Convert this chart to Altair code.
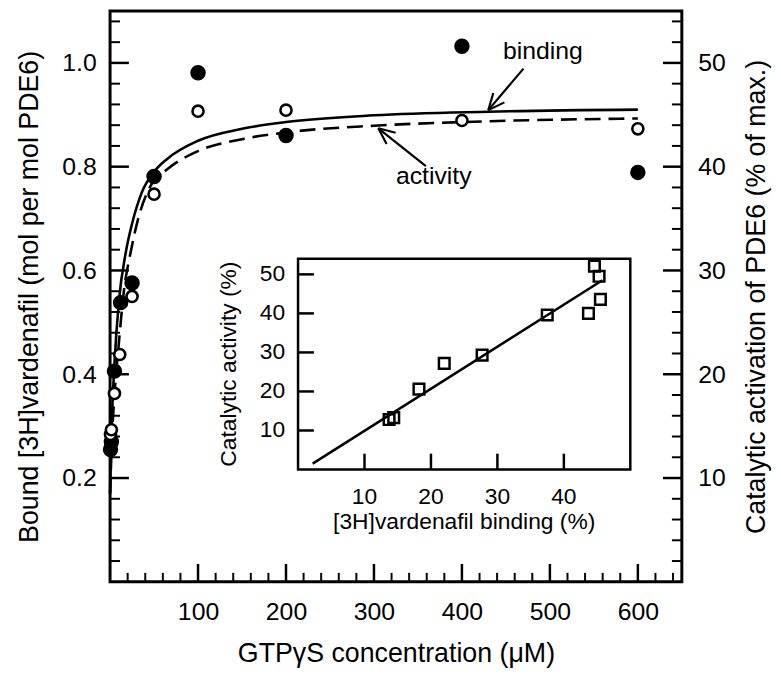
import math
import altair as alt
import pandas as pd

FONT = "Liberation Sans"
W, H = 577, 576
XMAX, YMAX, RMAX = 650, 1.1, 55

# ---------------- main data ----------------
bind_x = [0.5, 1.5, 5, 12, 25, 50, 100, 200, 400, 600]
bind_y = [0.255, 0.270, 0.406, 0.538, 0.576, 0.781, 0.981, 0.860, 1.032, 0.789]
act_x = [0.5, 1.5, 5, 11, 25, 50, 100, 200, 400, 600]
act_y = [0.284, 0.293, 0.363, 0.438, 0.550, 0.747, 0.907, 0.909, 0.889, 0.873]

bind_fit_x = [0, 1, 2, 5, 10, 18, 25, 36, 50, 65, 100, 150, 200, 300, 430, 600]
bind_fit_y = [0.17, 0.25, 0.31, 0.42, 0.54, 0.636, 0.69, 0.75, 0.79, 0.815, 0.850, 0.873, 0.886, 0.899, 0.906, 0.910]
act_fit_x = [0, 1, 2, 5, 10, 15, 24, 32, 47, 65, 100, 150, 200, 300, 400, 600]
act_fit_y = [0.17, 0.22, 0.27, 0.36, 0.46, 0.55, 0.64, 0.70, 0.766, 0.795, 0.830, 0.853, 0.866, 0.879, 0.886, 0.893]

x_major = [100, 200, 300, 400, 500, 600]
x_minor = [v for v in range(20, 650, 20) if v % 100 != 0]
y_major = [0.2, 0.4, 0.6, 0.8, 1.0]
y_minor = [round(i * 0.04, 2) for i in range(1, 28) if i % 5 != 0]
r_major = [10, 20, 30, 40, 50]
r_minor = [v for v in range(2, 55, 2) if v % 10 != 0]

ann_text = ["binding", "activity"]
ann_x = [492, 368]
ann_y = [1.022, 0.781]
arrow_tail_x = [470, 359]
arrow_tail_y = [0.989, 0.801]
arrow_head_x = [430, 305]
arrow_head_y = [0.909, 0.874]

# ---------------- inset data ----------------
sq_x = [44.6, 45.3, 45.5, 43.7, 37.5, 27.7, 22.0, 18.2, 14.4, 13.7]
sq_y = [52.1, 49.5, 43.6, 40.0, 39.6, 29.3, 27.2, 20.6, 13.3, 12.8]
inset_fit_x = [2.2, 45.8]
inset_fit_y = [1.5, 48.5]
ix_major = [10, 20, 30, 40]
iy_major = [10, 20, 30, 40, 50]
IXMAX, IYMAX = 50, 54

# ---------------- main encodings ----------------
x_scale = alt.Scale(domain=[0, XMAX], nice=False, zero=False)
y_scale = alt.Scale(domain=[0, YMAX], nice=False, zero=False)
X = alt.X("x:Q", scale=x_scale, axis=alt.Axis(
    values=x_major, tickSize=0, domain=False, grid=False, labelFlush=False,
    labelOverlap=False, labelFont=FONT, labelFontSize=25, labelColor="black",
    labelPadding=18, title="GTPγS concentration (μM)", titleFont=FONT,
    titleFontSize=27, titleFontWeight="normal", titleColor="black", titlePadding=16))
Y = alt.Y("y:Q", scale=y_scale, axis=alt.Axis(
    values=y_major, format=".1f", tickSize=0, domain=False, grid=False,
    labelOverlap=False, labelFont=FONT, labelFontSize=25, labelColor="black",
    labelPadding=14, title="Bound [3H]vardenafil (mol per mol PDE6)", titleFont=FONT,
    titleFontSize=27, titleFontWeight="normal", titleColor="black", titlePadding=18))
X2 = alt.X2("x2:Q")
Y2 = alt.Y2("y2:Q")

df_bind = pd.DataFrame({"x": bind_x, "y": bind_y})
df_act = pd.DataFrame({"x": act_x, "y": act_y})
df_bfit = pd.DataFrame({"x": bind_fit_x, "y": bind_fit_y})
df_afit = pd.DataFrame({"x": act_fit_x, "y": act_fit_y})

bfit = alt.Chart(df_bfit).mark_line(color="black", strokeWidth=2.6, interpolate="monotone").encode(x=X, y=Y)
afit = alt.Chart(df_afit).mark_line(color="black", strokeWidth=2.6, strokeDash=[16, 8], interpolate="monotone").encode(x=X, y=Y)
pts_b = alt.Chart(df_bind).mark_point(shape="circle", filled=True, fill="black", stroke="black", size=185, opacity=1).encode(x=X, y=Y)
pts_a = alt.Chart(df_act).mark_point(shape="circle", filled=True, fill="white", stroke="black", strokeWidth=2.6, size=125, opacity=1).encode(x=X, y=Y)

xt_major = alt.Chart(pd.DataFrame({"x": x_major})).mark_rule(color="black", strokeWidth=2.5).encode(x=X, y=alt.value(H), y2=alt.value(H - 18))
xt_minor = alt.Chart(pd.DataFrame({"x": x_minor})).mark_rule(color="black", strokeWidth=2).encode(x=X, y=alt.value(H), y2=alt.value(H - 9))
yt_major = alt.Chart(pd.DataFrame({"y": y_major})).mark_rule(color="black", strokeWidth=2.5).encode(y=Y, x=alt.value(0), x2=alt.value(19))
yt_minor = alt.Chart(pd.DataFrame({"y": y_minor})).mark_rule(color="black", strokeWidth=2).encode(y=Y, x=alt.value(0), x2=alt.value(10))

# annotations + arrows
sx, sy = W / XMAX, H / YMAX
rows = []
L, A = 18, math.radians(24)
for tx, ty, hx, hy in zip(arrow_tail_x, arrow_tail_y, arrow_head_x, arrow_head_y):
    rows.append({"x": tx, "y": ty, "x2": hx, "y2": hy})
    ang = math.atan2(-(hy - ty) * sy, (hx - tx) * sx)
    for s in (1, -1):
        a = ang + s * A
        ex = hx - L * math.cos(a) / sx
        ey = hy + L * math.sin(a) / sy
        rows.append({"x": hx, "y": hy, "x2": ex, "y2": ey})
arrows = alt.Chart(pd.DataFrame(rows)).mark_rule(color="black", strokeWidth=2.2).encode(x=X, y=Y, x2=X2, y2=Y2)
ann = alt.Chart(pd.DataFrame({"x": ann_x, "y": ann_y, "t": ann_text})).mark_text(
    font=FONT, fontSize=25, color="black", align="center", baseline="middle").encode(x=X, y=Y, text="t:N")

main = alt.layer(xt_major, xt_minor, yt_major, yt_minor, bfit, afit, pts_b, pts_a, arrows, ann)

# ---------------- right axis ----------------
YR = alt.Y("r:Q", scale=alt.Scale(domain=[0, RMAX], nice=False, zero=False), axis=alt.Axis(
    orient="right", values=r_major, tickSize=0, domain=False, grid=False,
    labelOverlap=False, labelFont=FONT, labelFontSize=25, labelColor="black", labelPadding=16,
    title="Catalytic activation of PDE6 (% of max.)", titleAngle=270, titleFont=FONT,
    titleFontSize=27, titleFontWeight="normal", titleColor="black", titlePadding=46))
rt_major = alt.Chart(pd.DataFrame({"r": r_major})).mark_rule(color="black", strokeWidth=2.5).encode(y=YR, x=alt.value(W), x2=alt.value(W - 19))
rt_minor = alt.Chart(pd.DataFrame({"r": r_minor})).mark_rule(color="black", strokeWidth=2).encode(y=YR, x=alt.value(W), x2=alt.value(W - 10))
right = alt.layer(rt_major, rt_minor)

# ---------------- inset ----------------
IX0, IX1 = 189.7, 525.0
IY0, IY1 = 462.7, 250.0
XI = alt.X("x:Q", scale=alt.Scale(domain=[0, IXMAX], range=[IX0, IX1], nice=False, zero=False), axis=None)
YI = alt.Y("y:Q", scale=alt.Scale(domain=[0, IYMAX], range=[IY0, IY1], nice=False, zero=False), axis=None)

frame = alt.Chart(pd.DataFrame({"x": [0], "x2": [IXMAX], "y": [0], "y2": [IYMAX]})).mark_rect(
    fill="white", stroke="black", strokeWidth=2.5).encode(x=XI, x2=X2, y=YI, y2=Y2)
ixt = alt.Chart(pd.DataFrame({"x": ix_major})).mark_rule(color="black", strokeWidth=2.5).encode(x=XI, y=alt.value(IY0), y2=alt.value(IY0 - 16))
iyt = alt.Chart(pd.DataFrame({"y": iy_major})).mark_rule(color="black", strokeWidth=2.5).encode(y=YI, x=alt.value(IX0), x2=alt.value(IX0 + 16))
ixl = alt.Chart(pd.DataFrame({"x": ix_major, "t": [str(v) for v in ix_major]})).mark_text(
    font=FONT, fontSize=23, color="black", align="center", baseline="middle").encode(x=XI, y=alt.value(IY0 + 28), text="t:N")
iyl = alt.Chart(pd.DataFrame({"y": iy_major, "t": [str(v) for v in iy_major]})).mark_text(
    font=FONT, fontSize=23, color="black", align="right", baseline="middle").encode(y=YI, x=alt.value(IX0 - 13), text="t:N")
ixtitle = alt.Chart(pd.DataFrame({"x": [IXMAX / 2], "t": ["[3H]vardenafil binding (%)"]})).mark_text(
    font=FONT, fontSize=23, color="black", align="center", baseline="middle").encode(x=XI, y=alt.value(IY0 + 53), text="t:N")
iytitle = alt.Chart(pd.DataFrame({"y": [IYMAX / 2], "t": ["Catalytic activity (%)"]})).mark_text(
    font=FONT, fontSize=23, color="black", align="center", baseline="middle", angle=270).encode(y=YI, x=alt.value(IX0 - 70), text="t:N")
ifit = alt.Chart(pd.DataFrame({"x": inset_fit_x, "y": inset_fit_y})).mark_line(color="black", strokeWidth=2.5).encode(x=XI, y=YI)
isq = alt.Chart(pd.DataFrame({"x": sq_x, "y": sq_y})).mark_point(shape="square", filled=False, stroke="black", strokeWidth=2.5, size=115, opacity=1).encode(x=XI, y=YI)

inset = alt.layer(frame, ixt, iyt, ixl, iyl, ixtitle, iytitle, ifit, isq)

chart = alt.layer(main, right, inset).resolve_scale(x="independent", y="independent").properties(
    width=W, height=H,
    background="white",
    autosize=alt.AutoSizeParams(type="none"),
    padding={"left": 103, "top": 0, "right": 92, "bottom": 90},
).configure_view(stroke="black", strokeWidth=3)

chart.save("out.html", embed_options={"renderer": "svg", "actions": False})
